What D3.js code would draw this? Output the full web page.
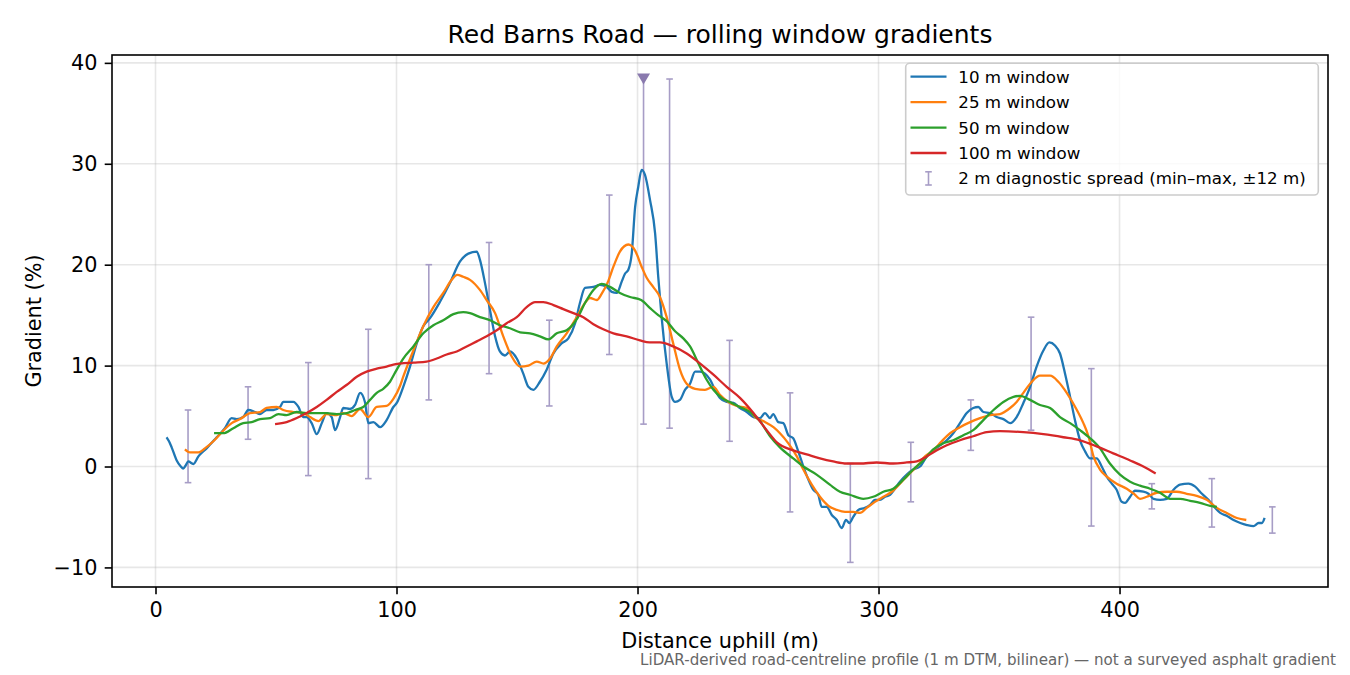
<!DOCTYPE html>
<html><head><meta charset="utf-8">
<script src="https://cdn.jsdelivr.net/npm/d3@7"></script>
<style>body{margin:0;background:#fff} svg{display:block} text{font-family:"DejaVu Sans",sans-serif}</style>
</head><body><svg id="chart" width="1350" height="675"></svg>
<script>
// ---------- data ----------
const xTicks = [0, 100, 200, 300, 400];
const yTicks = [-10, 0, 10, 20, 30, 40];
const seriesNames = ["10 m window", "25 m window", "50 m window", "100 m window"];
const spreadName = "2 m diagnostic spread (min\u2013max, \u00b112 m)";
const titleText = "Red Barns Road \u2014 rolling window gradients";
const xLabel = "Distance uphill (m)";
const yLabel = "Gradient (%)";
const footnote = "LiDAR-derived road-centreline profile (1 m DTM, bilinear) \u2014 not a surveyed asphalt gradient";

const win10 = [[4.6,2.9],[5.6,2.5],[6.7,1.9],[8.8,0.6],[10.5,0.0],[11.5,-0.2],[12.5,0.1],[13.6,0.5],[15.7,0.25],[17.8,1.0],[21.2,1.8],[25.4,2.9],[28.8,3.8],[31.6,4.8],[33.7,4.7],[36.4,4.9],[38.5,5.6],[41.3,5.4],[43.4,5.2],[46.1,5.6],[48.9,5.6],[51.7,5.9],[53,6.4],[57.2,6.4],[59.3,5.9],[61.3,4.9],[62.7,4.9],[64.8,4.3],[66.9,3.2],[69,4.3],[71,5.3],[73.1,4.9],[74.5,3.6],[76.6,4.9],[77.9,5.8],[80.7,5.7],[82.8,6.1],[84.9,7.3],[86.9,6.4],[88.3,4.3],[90.4,4.4],[93.2,3.9],[95.9,4.6],[98.7,5.9],[100.1,6.3],[102.8,7.9],[105.6,9.9],[108.4,12.2],[111.1,13.9],[113.9,14.7],[118,16.3],[122.2,18.2],[126.3,20.3],[129.8,21.1],[133.3,21.3],[134.6,20.5],[136.7,18.2],[138.8,15.5],[140.9,12.9],[142.9,11.4],[145,11.0],[147.1,11.4],[149.9,10.7],[152.6,9.2],[154.7,7.9],[156.8,7.6],[159.5,8.4],[162.3,9.6],[165.1,11.2],[168.5,12.2],[171.3,12.7],[174.1,14.2],[176.1,16.2],[178.2,17.7],[181.7,17.8],[184.4,18.0],[187.2,17.8],[189.3,17.3],[191.4,17.2],[193.4,18.3],[194.8,19.1],[196.2,19.5],[197.6,21.1],[199,25.7],[200.3,27.7],[201.7,29.4],[203.1,28.9],[205.2,26.4],[207.3,23.1],[208.6,18.8],[210,14.8],[212.1,10.2],[214.2,6.9],[215.6,6.4],[217.6,6.6],[219.7,7.6],[221.8,8.2],[223.9,9.4],[225.9,9.4],[228,9.2],[230.1,8.6],[232.2,7.6],[234.2,6.8],[237,6.4],[239.8,6.3],[242.5,5.8],[245.3,5.4],[248.1,4.9],[250.8,4.8],[252.9,5.3],[255,4.8],[256.3,5.2],[258.4,4.4],[260.5,4.3],[262.6,3.1],[264.6,2.8],[266.7,1.5],[268.8,0],[270.9,-1.3],[272.9,-2.3],[275,-2.8],[276.4,-4.0],[278.5,-4.0],[280.6,-4.8],[282.7,-5.3],[284.7,-6.1],[286.5,-5.3],[287.9,-5.6],[289.5,-5.0],[291.6,-4.3],[294.4,-4.1],[296.5,-3.8],[298.5,-3.3],[300.6,-3.3],[302.7,-3.0],[304.8,-2.8],[306.8,-2.2],[308.9,-1.5],[311.7,-0.8],[314.4,-0.3],[317.2,0],[320,1.0],[322.7,1.6],[325.5,2.1],[328.3,2.6],[331,3.3],[333.8,4.3],[336.6,5.3],[339.3,5.8],[341.4,5.9],[343.5,5.4],[346.3,5.3],[349,4.9],[351.8,4.7],[354.6,4.3],[357.3,4.9],[360.1,6.3],[362.9,7.9],[365.6,9.9],[368.4,11.5],[370.9,12.3],[373.2,12.0],[375.3,11.2],[377.4,9.2],[379.5,6.9],[381.5,4.6],[383.6,2.6],[385.7,1.5],[387.8,0.8],[390.5,0.8],[392.6,0],[394.7,-1.0],[396.8,-1.7],[398.8,-2.3],[400.9,-3.5],[402.3,-3.6],[404.4,-3.0],[406.4,-2.4],[409.9,-2.5],[412,-2.7],[414.1,-3.2],[416.8,-3.3],[419.6,-3.2],[422.4,-2.3],[425.1,-1.8],[428.6,-1.7],[431.4,-2.0],[434.2,-2.7],[436.9,-3.3],[439.7,-4.1],[441.8,-4.6],[444.6,-4.9],[447.3,-5.3],[450.1,-5.6],[452.9,-5.8],[455.6,-5.9],[457.7,-5.6],[459.1,-5.6],[460.2,-5.1]];

const win25 = [[12.2,1.7],[14.3,1.4],[17.8,1.4],[20.5,1.8],[24,2.5],[27.5,3.4],[31.6,4.3],[35.1,4.7],[39.2,5.3],[43.4,5.4],[46.1,5.8],[50.3,5.9],[53,5.6],[57.2,5.4],[61.3,5.3],[64.1,4.9],[67.6,4.5],[71,5.2],[75.2,5.1],[77.9,5.3],[81.4,5.0],[84.9,5.7],[88.3,4.9],[91.8,5.9],[95.9,6.0],[98.7,6.7],[101.5,8.0],[102.8,8.9],[107,11.5],[111.1,13.9],[115.3,15.8],[119.4,17.2],[122.9,18.5],[125.2,19.0],[127.7,18.8],[130.5,18.5],[134.6,17.5],[137.4,16.5],[140.9,15.2],[144.3,12.9],[147.8,10.9],[151.3,9.9],[154.7,10.0],[158.2,10.4],[161,10.2],[163.7,10.7],[166.5,11.9],[170.6,13.2],[174.8,14.8],[177.6,16.0],[180.3,16.7],[183.1,16.5],[185.1,17.1],[187.9,18.4],[190,19.8],[192.7,21.3],[196.2,22.0],[199,21.4],[201.7,19.8],[203.8,18.7],[206.5,17.8],[209.3,16.8],[212.1,14.8],[214.8,12.2],[217.6,9.6],[220.4,8.2],[223.9,7.7],[228,7.6],[231.5,7.9],[234.2,7.1],[237.7,6.4],[241.2,6.0],[245.3,5.8],[248.8,4.9],[252.2,4.5],[256.4,3.9],[259.1,3.3],[262.6,2.3],[266.1,1.0],[268.8,-0.3],[272.3,-1.8],[275.7,-3.0],[279.2,-3.9],[282.7,-4.3],[286.1,-4.5],[289.5,-4.5],[292.3,-4.6],[295.1,-4.1],[298.5,-3.5],[302,-3.0],[305.5,-2.5],[308.9,-1.7],[312.4,-0.8],[315.9,0],[319.3,1.0],[322.7,1.6],[326.2,2.5],[329.7,3.3],[333.8,3.9],[338,4.4],[342.1,4.8],[346.3,5.1],[350.4,5.2],[354.6,5.8],[357.3,6.4],[360.1,7.3],[363.6,8.4],[367,9.0],[371.2,9.0],[374.6,8.4],[378.1,7.3],[382.3,5.6],[385,4.3],[387.1,3.0],[389.2,1.0],[391.9,-0.3],[394.7,-1.0],[398.8,-1.7],[403,-2.2],[406.4,-2.8],[408.5,-3.2],[411.3,-3.0],[415.4,-2.6],[419.6,-2.5],[423.7,-2.5],[427.9,-2.7],[432,-2.9],[436.2,-3.3],[440.4,-4.1],[444.5,-4.6],[448.7,-5.1],[452.6,-5.3]];

const win50 = [[24.3,3.3],[28.1,3.3],[32.3,3.8],[36.4,4.3],[39.9,4.4],[43.4,4.7],[47.5,4.8],[51,5.2],[54.4,5.1],[58.6,5.4],[62.7,5.3],[66.9,5.3],[71,5.3],[75.2,5.2],[79.4,5.3],[82.8,5.6],[86.2,5.9],[89,6.6],[91.8,7.3],[94.5,7.7],[97.3,8.4],[99.4,9.3],[102.8,10.7],[107,11.9],[111.1,13.2],[115.3,14.0],[119.4,14.5],[123.6,15.1],[127.7,15.3],[130.5,15.2],[134.6,14.8],[138.8,14.5],[142.9,14.0],[147.1,13.7],[151.3,13.3],[155.4,13.2],[159.5,12.9],[163,12.6],[166.5,13.2],[170.6,13.5],[174.8,14.6],[178.2,16.2],[181.7,17.5],[185.1,18.1],[188.6,17.8],[192.7,17.2],[196.9,16.8],[201.5,16.5],[205.2,15.7],[208.6,15.0],[212.1,14.4],[215.6,13.4],[219,12.7],[221.8,11.9],[225.3,10.2],[228.7,8.6],[231.5,7.6],[234.9,6.8],[239.1,6.3],[242.5,5.9],[246.7,5.4],[250.8,4.5],[255,3.0],[259.1,1.9],[264.6,0.8],[268.8,0],[274.3,-0.8],[279.8,-1.8],[284,-2.5],[288.1,-2.8],[293.7,-3.2],[297.8,-3.0],[302,-2.5],[306.1,-2.2],[310.3,-1.3],[314.4,-0.3],[318.6,0.6],[322.7,1.7],[326.9,2.3],[331,2.6],[335.2,3.1],[339.3,3.6],[343.5,4.6],[347.7,5.6],[351.8,6.4],[356,6.9],[358.7,7.0],[362.9,6.6],[367,6.1],[371.2,5.8],[375.3,4.9],[379.5,4.3],[383.6,3.6],[387.8,2.8],[391.9,1.8],[396,0.3],[400.2,-0.8],[404.4,-1.5],[408.5,-1.9],[412.7,-2.2],[416.8,-2.6],[421,-3.2],[425.1,-3.2],[429.3,-3.4],[433.4,-3.6],[437.6,-3.9],[440.4,-4.0]];

const win100 = [[49.6,4.2],[54.4,4.4],[58.6,4.8],[62.7,5.3],[66.9,5.9],[71,6.6],[75.2,7.4],[79.4,8.1],[83.5,8.9],[87.6,9.4],[91.8,9.7],[95.9,9.9],[98.7,10.1],[101.5,10.2],[107,10.3],[112.5,10.4],[116.7,10.7],[120.8,11.1],[125,11.4],[129.1,11.9],[133.3,12.4],[137.4,12.9],[141.6,13.5],[145.7,14.2],[149.9,14.8],[154,15.8],[157.5,16.3],[160.9,16.3],[165.1,16.0],[169.2,15.6],[173.4,15.2],[177.5,14.8],[181.7,14.1],[185.8,13.6],[190,13.2],[195.5,12.9],[201,12.5],[205,12.3],[209.3,12.3],[214.8,11.9],[220.4,11.2],[226,10.2],[231.5,9.1],[237,7.9],[242.5,6.8],[248.1,5.3],[253.6,3.6],[257.8,2.4],[264.6,1.6],[270.2,1.2],[275.7,0.8],[281.2,0.5],[286.8,0.3],[292.3,0.3],[299.2,0.4],[306.1,0.3],[311.7,0.4],[315.9,0.5],[320,1.0],[324.2,1.6],[328.3,2.1],[333.8,2.6],[339.3,3.0],[344.9,3.4],[350.4,3.5],[360.1,3.4],[368.4,3.2],[376.7,2.9],[383.6,2.6],[390.5,2.0],[397.4,1.3],[404.4,0.6],[409.9,0],[415,-0.7]];

const spreadX  = [13.5, 38.4, 63.4, 88.3, 113.4, 138.4, 163.4, 188.3, 202.5, 213.3, 238.2, 263.3, 288.3, 313.4, 338.3, 363.3, 388.3, 413.4, 438.3, 463.4];
const spreadLo = [-1.6, 2.7, -0.9, -1.2, 6.6, 9.2, 6.0, 11.1, 4.2, 3.8, 2.5, -4.5, -9.5, -3.5, 1.6, 3.6, -5.9, -4.2, -6.0, -6.6];
const spreadHi = [5.6, 7.9, 10.3, 13.6, 20.0, 22.2, 14.5, 26.9, 38.4, 38.4, 12.5, 7.3, 0.3, 2.4, 6.6, 14.8, 9.7, -1.7, -1.2, -4.0];
const offScaleX = [202.5];   // spread exceeds the plotted range here
const offScaleY = [38.4];

// ---------- layout ----------
const W = 1350, H = 675;
const M = {left: 112, right: 1328, top: 55, bottom: 587};
const colors = ["#1f77b4", "#ff7f0e", "#2ca02c", "#d62728"];
const spreadColor = "#a79dc6";
const markerColor = "#8a7aae";

const svg = d3.select("#chart");
const x = d3.scaleLinear().domain([-18.05, 486.5]).range([M.left, M.right]);
const y = d3.scaleLinear().domain([-11.94, 40.78]).range([M.bottom, M.top]);

svg.append("defs").append("clipPath").attr("id", "plotclip")
  .append("rect").attr("x", M.left).attr("y", M.top)
  .attr("width", M.right - M.left).attr("height", M.bottom - M.top);

// grid
const grid = svg.append("g");
grid.selectAll(".gx").data(xTicks).join("line")
  .attr("x1", d => x(d)).attr("x2", d => x(d)).attr("y1", M.top).attr("y2", M.bottom)
  .attr("stroke", "#b0b0b0").attr("stroke-opacity", 0.3).attr("stroke-width", 1.6);
grid.selectAll(".gy").data(yTicks).join("line")
  .attr("y1", d => y(d)).attr("y2", d => y(d)).attr("x1", M.left).attr("x2", M.right)
  .attr("stroke", "#b0b0b0").attr("stroke-opacity", 0.3).attr("stroke-width", 1.6);

const plot = svg.append("g").attr("clip-path", "url(#plotclip)");

// error bars
const spread = spreadX.map((sx, i) => ({x: sx, lo: spreadLo[i], hi: spreadHi[i], off: offScaleX.includes(sx)}));
const eb = plot.append("g");
const cap = 3.3;
spread.forEach(d => {
  eb.append("line").attr("x1", x(d.x)).attr("x2", x(d.x)).attr("y1", y(d.lo)).attr("y2", y(d.hi))
    .attr("stroke", spreadColor).attr("stroke-width", 1.6);
  eb.append("line").attr("x1", x(d.x) - cap).attr("x2", x(d.x) + cap).attr("y1", y(d.lo)).attr("y2", y(d.lo))
    .attr("stroke", spreadColor).attr("stroke-width", 1.6);
  if (!d.off) {
    eb.append("line").attr("x1", x(d.x) - cap).attr("x2", x(d.x) + cap).attr("y1", y(d.hi)).attr("y2", y(d.hi))
      .attr("stroke", spreadColor).attr("stroke-width", 1.6);
  }
});
offScaleX.forEach((ox, i) => {
  const cx = x(ox), cy = y(offScaleY[i]);
  eb.append("path").attr("d", `M${cx-6.5},${cy-5.5}L${cx+6.5},${cy-5.5}L${cx},${cy+5.5}Z`)
    .attr("fill", markerColor);
});

// lines
const line = d3.line().x(d => x(d[0])).y(d => y(d[1])).curve(d3.curveMonotoneX);
[win10, win25, win50, win100].forEach((s, i) => {
  plot.append("path").datum(s).attr("d", line).attr("fill", "none")
    .attr("stroke", colors[i]).attr("stroke-width", 2.3)
    .attr("stroke-linejoin", "round").attr("stroke-linecap", "butt");
});

// axes
const fs = 20.8;
const xa = svg.append("g").attr("transform", `translate(0,${M.bottom})`)
  .call(d3.axisBottom(x).tickValues(xTicks).tickSize(7.3).tickPadding(7.3).tickFormat(d3.format("d")));
const ya = svg.append("g").attr("transform", `translate(${M.left},0)`)
  .call(d3.axisLeft(y).tickValues(yTicks).tickSize(7.3).tickPadding(7.3).tickFormat(d => d < 0 ? "\u2212" + Math.abs(d) : d));
[xa, ya].forEach(a => {
  a.select(".domain").remove();
  a.selectAll(".tick line").attr("stroke", "#000").attr("stroke-width", 1.6);
  a.selectAll(".tick text").attr("font-size", fs).attr("fill", "#000")
    .attr("font-family", "DejaVu Sans");
});
xa.selectAll(".tick text").attr("dy", "0.76em");

// frame
svg.append("rect").attr("x", M.left).attr("y", M.top)
  .attr("width", M.right - M.left).attr("height", M.bottom - M.top)
  .attr("fill", "none").attr("stroke", "#000").attr("stroke-width", 1.6);

// texts
svg.append("text").attr("x", (M.left + M.right) / 2).attr("y", 42.5)
  .attr("text-anchor", "middle").attr("font-size", 25).text(titleText);
svg.append("text").attr("x", (M.left + M.right) / 2).attr("y", 648)
  .attr("text-anchor", "middle").attr("font-size", fs).text(xLabel);
svg.append("text").attr("transform", `translate(41,${(M.top + M.bottom) / 2}) rotate(-90)`)
  .attr("text-anchor", "middle").attr("font-size", fs).text(yLabel);
svg.append("text").attr("x", 1336).attr("y", 665).attr("text-anchor", "end")
  .attr("font-size", 15.1).attr("fill", "#666").text(footnote);

// legend
const lg = svg.append("g");
lg.append("rect").attr("x", 905.7).attr("y", 63.3).attr("width", 412.6).attr("height", 131.7)
  .attr("rx", 4).attr("fill", "#fff").attr("fill-opacity", 0.8)
  .attr("stroke", "#cccccc").attr("stroke-width", 1.6);
const rowY = [76.7, 102.2, 127.6, 153.0, 178.4];
seriesNames.forEach((n, i) => {
  lg.append("line").attr("x1", 910.5).attr("x2", 946.5).attr("y1", rowY[i]).attr("y2", rowY[i])
    .attr("stroke", colors[i]).attr("stroke-width", 2.3);
  lg.append("text").attr("x", 958.3).attr("y", rowY[i]).attr("dy", "0.36em")
    .attr("font-size", 16.7).text(n);
});
const ly = rowY[4];
lg.append("line").attr("x1", 928.5).attr("x2", 928.5).attr("y1", ly - 6.6).attr("y2", ly + 6.6)
  .attr("stroke", spreadColor).attr("stroke-width", 1.6);
[ly - 6.6, ly + 6.6].forEach(v => lg.append("line").attr("x1", 928.5 - cap).attr("x2", 928.5 + cap)
  .attr("y1", v).attr("y2", v).attr("stroke", spreadColor).attr("stroke-width", 1.6));
lg.append("text").attr("x", 958.3).attr("y", ly).attr("dy", "0.36em")
  .attr("font-size", 16.7).text(spreadName);
</script></body></html>
